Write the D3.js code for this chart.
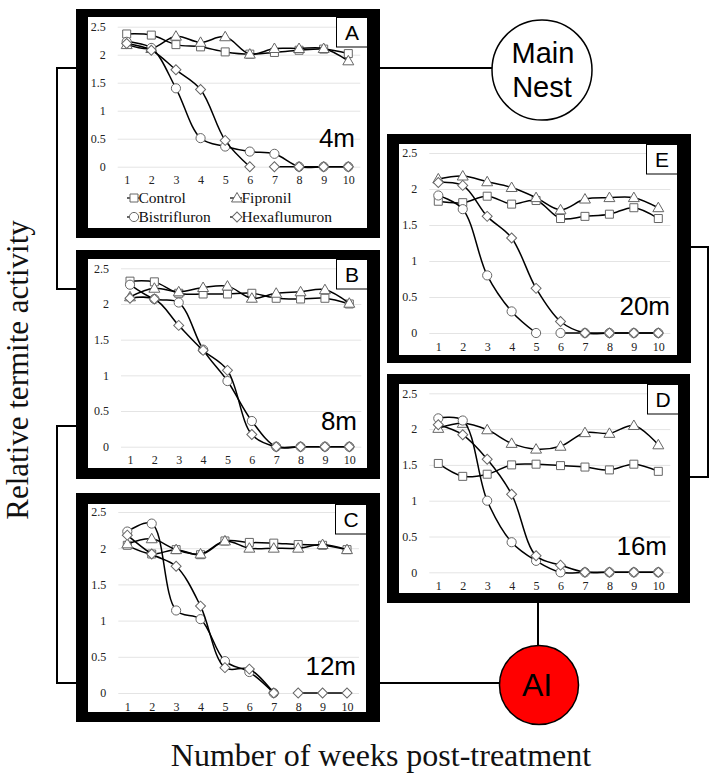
<!DOCTYPE html>
<html><head><meta charset="utf-8">
<script src="https://cdnjs.cloudflare.com/ajax/libs/d3/7.8.5/d3.min.js"></script>
<style>body{margin:0;background:#fff} svg{display:block}</style>
</head><body>
<svg id="c" width="717" height="782"></svg>
<script>
// ---------- data ----------
const weeks = [1,2,3,4,5,6,7,8,9,10];
const yTicks = [0,0.5,1,1.5,2,2.5];
const seriesNames = ["Control","Fipronil","Bistrifluron","Hexaflumuron"];
const panelIds = ["A","B","C","E","D"];
const distanceLabels = ["4m","8m","12m","20m","16m"];

const controlA      = [2.37,2.35,2.18,2.14,2.05,2.01,2.04,2.08,2.10,2.02];
const fipronilA     = [2.18,2.11,2.33,2.22,2.32,2.01,2.11,2.11,2.11,1.89];
const bistrifluronA = [2.23,2.12,1.40,0.51,0.36,0.27,0.23,0,0,0];
const hexaflumuronA = [2.20,2.08,1.73,1.38,0.47,0,0,0,0,0];

const controlB      = [2.32,2.31,2.15,2.14,2.14,2.15,2.08,2.07,2.08,2.00];
const fipronilB     = [2.10,2.22,2.17,2.23,2.25,2.08,2.15,2.17,2.20,2.01];
const bistrifluronB = [2.27,2.07,2.02,1.36,0.92,0.36,0,0,0,0];
const hexaflumuronB = [2.08,2.07,1.70,1.35,1.07,0.17,0,0,0,0];

const controlC      = [2.04,1.92,1.98,1.91,2.10,2.08,2.07,2.05,2.04,1.98];
const fipronilC     = [2.06,2.13,1.98,1.92,2.10,2.00,2.00,2.00,2.05,1.98];
const bistrifluronC = [2.23,2.34,1.14,1.02,0.44,0.29,0,null,null,null];
const hexaflumuronC = [2.18,1.92,1.75,1.20,0.35,0.33,0,0,0,0];

const controlE      = [1.83,1.81,1.90,1.79,1.84,1.59,1.62,1.65,1.74,1.59];
const fipronilE     = [2.14,2.18,2.10,2.02,1.88,1.71,1.86,1.88,1.88,1.74];
const bistrifluronE = [1.91,1.72,0.80,0.30,0,0,0,0,0,0];
const hexaflumuronE = [2.09,2.05,1.62,1.32,0.62,0.16,0,0,0,0];

const controlD      = [1.52,1.34,1.37,1.50,1.51,1.49,1.47,1.43,1.51,1.41];
const fipronilD     = [2.01,2.08,1.99,1.80,1.72,1.76,1.95,1.94,2.05,1.78];
const bistrifluronD = [2.15,2.12,1.00,0.42,0.16,0,0,0,0,0];
const hexaflumuronD = [2.06,1.92,1.58,1.09,0.23,0.10,0,0,0,0];

// line breaks (no segment drawn between week w and w+1)
const breaksA = {Hexaflumuron:[6]};
const breaksB = {};
const breaksC = {Hexaflumuron:[7]};
const breaksE = {Bistrifluron:[5]};
const breaksD = {};

const panelSeries = [
  [controlA,fipronilA,bistrifluronA,hexaflumuronA],
  [controlB,fipronilB,bistrifluronB,hexaflumuronB],
  [controlC,fipronilC,bistrifluronC,hexaflumuronC],
  [controlE,fipronilE,bistrifluronE,hexaflumuronE],
  [controlD,fipronilD,bistrifluronD,hexaflumuronD]
];
const panelBreaks = [breaksA,breaksB,breaksC,breaksE,breaksD];

// ---------- layout ----------
const layout = [
  {outer:[76,9,304,229],   inner:[88,17,279,211],  x:[126.7,348.3], y:[166.7,26.7], lab:[355,147]},
  {outer:[76,250,304,229], inner:[88,259,279,209], x:[130,349.3],   y:[446.7,268.3], lab:[357,430]},
  {outer:[76,493,304,229], inner:[88,504,278,208], x:[127.3,347],   y:[693,512],   lab:[356,675]},
  {outer:[387,134,304,229],inner:[399,144,278,211],x:[438.3,658.3], y:[333,153],   lab:[670,315]},
  {outer:[387,374,303,229],inner:[399,384,279,209],x:[438.3,658.3], y:[572.3,393.3], lab:[667,555]}
];

const svg = d3.select("#c");
const serif = "'Liberation Serif','Times New Roman',serif";
const sans = "'Liberation Sans',Arial,sans-serif";

const symType = [d3.symbolSquare, d3.symbolTriangle, d3.symbolCircle, d3.symbolSquare];
const symSize = [64, 52, 66, 50];
const symRot  = [0, 0, 0, 45];

function marker(g, i, cx, cy){
  g.append("path")
    .attr("d", d3.symbol().type(symType[i]).size(symSize[i])())
    .attr("transform", `translate(${cx},${cy}) rotate(${symRot[i]})` + (i===1?" translate(0,0.8)":""))
    .attr("fill","#fff").attr("stroke","#666").attr("stroke-width",1);
}

// connectors (drawn first)
const conn = svg.append("g").attr("stroke","#000").attr("stroke-width",2).attr("fill","none");
conn.append("path").attr("d","M76,68 H57 V289 H76");
conn.append("path").attr("d","M76,426 H57 V683 H76");
conn.append("path").attr("d","M691,247 H708 V477 H690");
conn.append("path").attr("d","M380,68 H492");
conn.append("path").attr("d","M380,683 H499");
conn.append("path").attr("d","M538,603 V645");

layout.forEach((L,p)=>{
  const g = svg.append("g");
  g.append("rect").attr("x",L.outer[0]).attr("y",L.outer[1]).attr("width",L.outer[2]).attr("height",L.outer[3]).attr("fill","#000");
  g.append("rect").attr("x",L.inner[0]).attr("y",L.inner[1]).attr("width",L.inner[2]).attr("height",L.inner[3]).attr("fill","#fff");

  const x = d3.scaleLinear().domain([1,10]).range(L.x);
  const y = d3.scaleLinear().domain([0,2.5]).range(L.y);

  // y axis with gridlines
  const gx0 = L.x[0]-9, gx1 = L.x[1]+12;
  const ya = g.append("g").attr("transform",`translate(${gx0},0)`)
    .call(d3.axisLeft(y).tickValues(yTicks).tickSize(-(gx1-gx0)).tickPadding(12).tickFormat(d3.format("~g")));
  ya.select(".domain").remove();
  ya.selectAll(".tick line").attr("stroke","#e4e4e4").attr("stroke-width",1);
  ya.selectAll(".tick text").attr("font-family",serif).attr("font-size",12).attr("fill","#222");

  const xa = g.append("g").attr("transform",`translate(0,${L.y[0]})`)
    .call(d3.axisBottom(x).tickValues(weeks).tickSize(0).tickPadding(9).tickFormat(d3.format("d")));
  xa.select(".domain").remove();
  xa.selectAll(".tick text").attr("font-family",serif).attr("font-size",12).attr("fill","#222");

  // series
  const line = d3.line().x(d=>x(d.w)).y(d=>y(d.v)).curve(d3.curveCatmullRom.alpha(0.5));
  panelSeries[p].forEach((vals,i)=>{
    const name = seriesNames[i];
    const brk = panelBreaks[p][name] || [];
    const segs = []; let cur = [];
    vals.forEach((v,k)=>{
      if (v==null){ if(cur.length) segs.push(cur); cur=[]; return; }
      cur.push({w:weeks[k], v});
      if (brk.includes(weeks[k])){ segs.push(cur); cur=[]; }
    });
    if (cur.length) segs.push(cur);
    segs.filter(s=>s.length>1).forEach(s=>{
      g.append("path").attr("d",line(s)).attr("fill","none").attr("stroke","#000").attr("stroke-width",1.5);
    });
    vals.forEach((v,k)=>{ if (v!=null) marker(g,i,x(weeks[k]),y(v)); });
  });

  // letter box
  const bx = L.inner[0]+L.inner[2]-31, by = L.inner[1];
  g.append("rect").attr("x",bx+0.5).attr("y",by+0.5).attr("width",31).attr("height",29.5)
    .attr("fill","#fff").attr("stroke","#000").attr("stroke-width",1);
  g.append("text").attr("x",bx+16).attr("y",by+23).attr("text-anchor","middle")
    .attr("font-family",sans).attr("font-size",21).text(panelIds[p]);

  // distance label
  g.append("text").attr("x",L.lab[0]).attr("y",L.lab[1]).attr("text-anchor","end")
    .attr("font-family",sans).attr("font-size",26).text(distanceLabels[p]);

  // legend in panel A
  if (p===0){
    const pos = [[134,198],[237,198],[134,217],[237,217]];
    seriesNames.forEach((n,i)=>{
      const [cx,cy]=pos[i];
      g.append("line").attr("x1",cx-7).attr("x2",cx+5).attr("y1",cy).attr("y2",cy).attr("stroke","#000").attr("stroke-width",1.2);
      marker(g,i,cx,cy);
      g.append("text").attr("x",cx+4.5).attr("y",cy+5).attr("font-family",serif).attr("font-size",15.5).attr("fill","#111").text(n);
    });
  }
});

// nodes
svg.append("circle").attr("cx",542).attr("cy",70).attr("r",50).attr("fill","#fff").attr("stroke","#000").attr("stroke-width",1.5);
svg.append("text").attr("x",543).attr("y",63).attr("text-anchor","middle").attr("font-family",sans).attr("font-size",29).text("Main");
svg.append("text").attr("x",542).attr("y",97).attr("text-anchor","middle").attr("font-family",sans).attr("font-size",29).text("Nest");

svg.append("circle").attr("cx",539).attr("cy",685).attr("r",39.5).attr("fill","#ff0000").attr("stroke","#000").attr("stroke-width",1.5);
svg.append("text").attr("x",537).attr("y",696).attr("text-anchor","middle").attr("font-family",sans).attr("font-size",32).text("AI");

// axis titles
svg.append("text").attr("x",381).attr("y",766).attr("text-anchor","middle").attr("font-family",serif).attr("font-size",32).attr("fill","#111")
  .text("Number of weeks post-treatment");
svg.append("text").attr("transform","translate(28,370) rotate(-90)").attr("text-anchor","middle").attr("font-family",serif).attr("font-size",31).attr("fill","#111")
  .text("Relative termite activity");
</script>
</body></html>
